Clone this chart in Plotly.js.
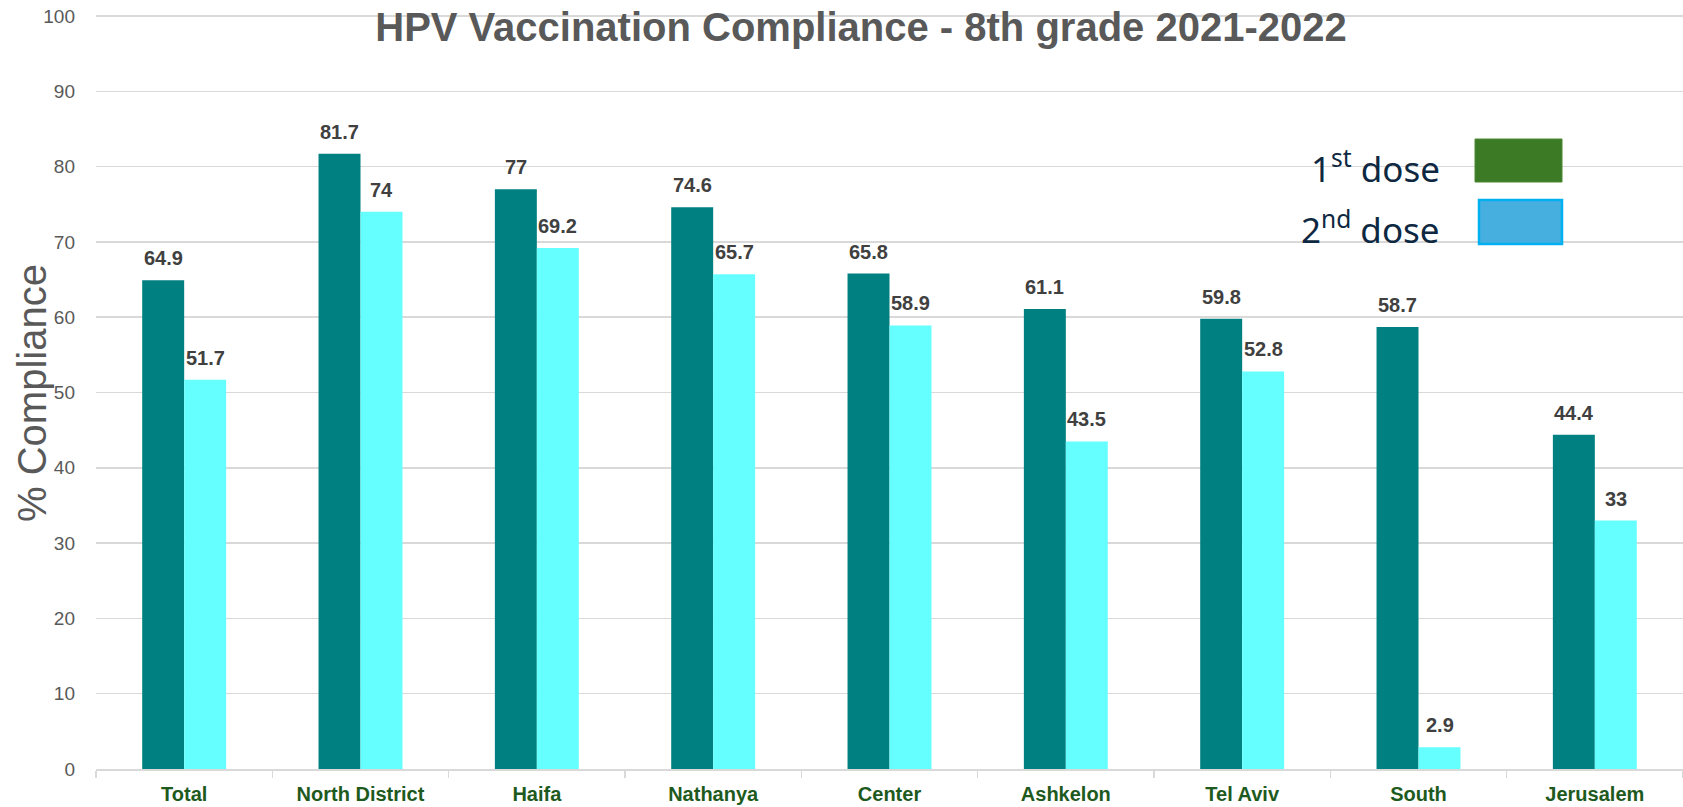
<!DOCTYPE html>
<html>
<head>
<meta charset="utf-8">
<script src="https://cdn.plot.ly/plotly-3.0.1.min.js"></script>
<style>html,body{margin:0;padding:0;background:#fff;}#chart{width:1683px;height:807px;}</style>
</head>
<body>
<div id="chart"></div>
<script>
const categories = ["Total", "North District", "Haifa", "Nathanya", "Center", "Ashkelon", "Tel Aviv", "South", "Jerusalem"];
const dose1 = [64.9, 81.7, 77, 74.6, 65.8, 61.1, 59.8, 58.7, 44.4];
const dose2 = [51.7, 74, 69.2, 65.7, 58.9, 43.5, 52.8, 2.9, 33];
const seriesNames = ["1st dose", "2nd dose"];
const yTicks = [0, 10, 20, 30, 40, 50, 60, 70, 80, 90, 100];

const W = 1683, H = 807;
const mL = 96, mR = 0, mT = 12, mB = 38;
const pw = W - mL - mR, ph = H - mT - mB;
const px = x => (x - mL) / pw;
const py = y => (H - mB - y) / ph;
// top of range so that the 100 gridline sits at y=16 px
const yTop = 100 * ph / (H - mB - 16);

const traces = [
  {type: "bar", name: seriesNames[0], x: categories, y: dose1, marker: {color: "#008080"}, hoverinfo: "x+y"},
  {type: "bar", name: seriesNames[1], x: categories, y: dose2, marker: {color: "#66FFFF"}, hoverinfo: "x+y"}
];

const labelFont = {family: "Liberation Sans, Arial, sans-serif", size: 20, color: "#404040", weight: "bold"};
const annotations = [];
categories.forEach((c, i) => {
  annotations.push({x: c, y: dose1[i], xref: "x", yref: "y", text: "<b>" + dose1[i] + "</b>", showarrow: false, xshift: -21, yshift: 22, yanchor: "middle", font: labelFont});
  annotations.push({x: c, y: dose2[i], xref: "x", yref: "y", text: "<b>" + dose2[i] + "</b>", showarrow: false, xshift: 21, yshift: 22, yanchor: "middle", font: labelFont});
});

// y-axis title
annotations.push({xref: "paper", yref: "paper", x: px(32), y: py(393), text: "% Compliance", textangle: -90, showarrow: false, xanchor: "center", yanchor: "middle",
  font: {family: "Liberation Sans, Arial, sans-serif", size: 40, color: "#595959"}});

// legend texts
const legFont = {family: "Noto Sans, sans-serif", size: 35, color: "#0E2841"};
annotations.push({xref: "paper", yref: "paper", x: px(1442), y: py(166), text: "1<sup>st</sup> dose", showarrow: false, xanchor: "right", yanchor: "middle", font: legFont});
annotations.push({xref: "paper", yref: "paper", x: px(1442), y: py(227), text: "2<sup>nd</sup> dose", showarrow: false, xanchor: "right", yanchor: "middle", font: legFont});

const shapes = [
  {type: "rect", xref: "paper", yref: "paper", x0: px(1475), x1: px(1562), y0: py(182), y1: py(139), fillcolor: "#3C7A26", line: {color: "#4A8A33", width: 1}},
  {type: "rect", xref: "paper", yref: "paper", x0: px(1479), x1: px(1562), y0: py(244), y1: py(200), fillcolor: "#47AFDF", line: {color: "#00B0F0", width: 2.5}}
];

const layout = {
  width: W, height: H,
  margin: {l: mL, r: mR, t: mT, b: mB, pad: 0},
  paper_bgcolor: "#ffffff", plot_bgcolor: "#ffffff",
  showlegend: false,
  barmode: "group", bargap: 0.524, bargroupgap: 0,
  title: {text: "<b>HPV Vaccination Compliance - 8th grade 2021-2022</b>", xref: "container", yref: "container", x: 861 / W, y: 1 - 27 / H, xanchor: "center", yanchor: "middle",
    font: {family: "Liberation Sans, Arial, sans-serif", size: 40, color: "#595959"}},
  xaxis: {
    type: "category", showgrid: false, showline: true, linecolor: "#D9D9D9", linewidth: 1.5,
    ticks: "outside", tickson: "boundaries", ticklen: 7, tickcolor: "#D9D9D9", tickwidth: 1.5,
    tickfont: {family: "Liberation Sans, Arial, sans-serif", size: 20, color: "#1E5A1E", weight: "bold"},
    ticklabelstandoff: 6, automargin: false, fixedrange: true
  },
  yaxis: {
    range: [0, yTop], tickvals: yTicks, ticktext: yTicks.map(String), showgrid: true, gridcolor: "#D9D9D9", gridwidth: 1.5,
    zeroline: false, showline: false, ticks: "", ticklabelstandoff: 20,
    tickfont: {family: "Liberation Sans, Arial, sans-serif", size: 19, color: "#595959"},
    automargin: false, fixedrange: true
  },
  annotations: annotations,
  shapes: shapes
};

Plotly.newPlot("chart", traces, layout, {displayModeBar: false, staticPlot: true});
</script>
</body>
</html>
